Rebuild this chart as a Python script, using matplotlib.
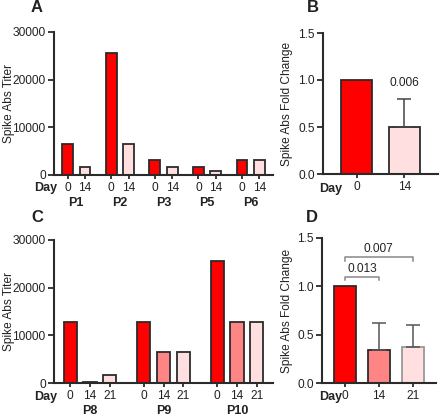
import matplotlib
matplotlib.use("Agg")
import matplotlib.pyplot as plt
import numpy as np

plt.rcParams["font.family"] = ["Liberation Sans", "DejaVu Sans"]
plt.rcParams["font.size"] = 8.6

# ---- data ----
a_patients = ["P1", "P2", "P3", "P5", "P6"]
a_days = ["0", "14"]
a_titer = [[6400, 1600], [25600, 6400], [3200, 1600], [1600, 800], [3200, 3200]]

b_days = ["0", "14"]
b_fold = [1.0, 0.5]
b_err = [0.0, 0.3]
b_pval = "0.006"

c_patients = ["P8", "P9", "P10"]
c_days = ["0", "14", "21"]
c_titer = [[12800, 200, 1600], [12800, 6400, 6400], [25600, 12800, 12800]]

d_days = ["0", "14", "21"]
d_fold = [1.0, 0.34, 0.37]
d_err = [0.0, 0.28, 0.23]
d_pvals = ["0.013", "0.007"]

RED = "#ff0000"
MID = "#ff8585"
LIGHT = "#ffdfdf"
EDGE = "#2b2b2b"
TXT = "#222222"

W, H = 440, 416
fig = plt.figure(figsize=(W / 100, H / 100), dpi=100)


def box(l, t, r, b):
    return [l / W, 1 - b / H, (r - l) / W, (b - t) / H]


def style(ax):
    for s in ("top", "right"):
        ax.spines[s].set_visible(False)
    for s in ("left", "bottom"):
        ax.spines[s].set_linewidth(1.5)
        ax.spines[s].set_color(EDGE)
    ax.tick_params(axis="y", length=4, width=1.3, pad=2, colors=EDGE, labelcolor=TXT)
    ax.tick_params(axis="x", length=3, width=1.3, pad=2, colors=EDGE, labelcolor=TXT)


def grouped(ax, groups, days, values, colors, step, width, lim):
    pos, labels = [], []
    for i, (g, vals) in enumerate(zip(groups, values)):
        xs = i + np.arange(len(vals)) * step
        ax.bar(xs, vals, width=width, color=colors, edgecolor=EDGE, linewidth=1.3)
        pos.extend(xs)
        labels.extend(days)
        ax.annotate(g, xy=(xs.mean(), 0), xycoords=("data", "axes fraction"),
                    xytext=(0, -20), textcoords="offset points",
                    ha="center", va="center", fontsize=9, fontweight="bold", color=TXT)
    ax.set_xticks(pos)
    ax.set_xticklabels(labels)
    ax.set_xlim(*lim)
    ax.set_ylim(0, 30000)
    ax.set_yticks([0, 10000, 20000, 30000])
    ax.set_ylabel("Spike Abs Titer", color=TXT)
    ax.yaxis.set_label_coords(-0.18, 0.5)


# ---- A ----
ax_a = fig.add_axes(box(54, 32, 273, 175))
style(ax_a)
grouped(ax_a, a_patients, a_days, a_titer, [RED, LIGHT], 0.4, 0.25, (-0.31, 4.71))

# ---- C ----
ax_c = fig.add_axes(box(54, 240, 273, 383))
style(ax_c)
grouped(ax_c, c_patients, c_days, c_titer, [RED, MID, LIGHT], 0.27, 0.18, (-0.22, 2.76))

# ---- B ----
ax_b = fig.add_axes(box(323, 33, 438, 174))
style(ax_b)
xb = np.arange(len(b_fold))
ax_b.bar(xb, b_fold, width=0.65, color=[RED, LIGHT], edgecolor=EDGE, linewidth=1.3)
ax_b.errorbar(xb[1:], b_fold[1:], yerr=[[0], b_err[1:]], fmt="none",
              ecolor="#444444", elinewidth=1.1, capsize=5, capthick=1.1)
ax_b.text(xb[1], 0.97, b_pval, ha="center", va="center", fontsize=8.6, color=TXT)
ax_b.set_xticks(xb)
ax_b.set_xticklabels(b_days)
ax_b.set_xlim(-0.7, 1.7)
ax_b.set_ylim(0, 1.5)
ax_b.set_yticks([0, 0.5, 1.0, 1.5])
ax_b.set_yticklabels(["0.0", "0.5", "1.0", "1.5"])
ax_b.set_ylabel("Spike Abs Fold Change", color=TXT)
ax_b.yaxis.set_label_coords(-0.26, 0.5)

# ---- D ----
ax_d = fig.add_axes(box(322, 238, 436, 383))
style(ax_d)
xd = np.arange(len(d_fold))
ax_d.bar(xd, d_fold, width=0.65, color=[RED, MID, LIGHT],
         edgecolor=[EDGE, EDGE, "#999999"], linewidth=1.3)
ax_d.errorbar(xd[1:], d_fold[1:], yerr=[[0, 0], d_err[1:]], fmt="none",
              ecolor="#555555", elinewidth=1.1, capsize=5, capthick=1.1)
for (x0, x1, y, lab) in [(xd[0], xd[1], 1.10, d_pvals[0]), (xd[0], xd[2], 1.30, d_pvals[1])]:
    ax_d.plot([x0, x0, x1, x1], [y - 0.035, y, y, y - 0.035], color="#888888", lw=1.1)
    ax_d.text((x0 + x1) / 2, y + 0.02, lab, ha="center", va="bottom", fontsize=8.6, color=TXT)
ax_d.set_xticks(xd)
ax_d.set_xticklabels(d_days)
ax_d.set_xlim(-0.68, 2.69)
ax_d.set_ylim(0, 1.5)
ax_d.set_yticks([0, 0.5, 1.0, 1.5])
ax_d.set_yticklabels(["0.0", "0.5", "1.0", "1.5"])
ax_d.set_ylabel("Spike Abs Fold Change", color=TXT)
ax_d.yaxis.set_label_coords(-0.255, 0.5)

# "Day" row labels and panel letters
for (x, y) in [(57, 188), (342, 189), (57, 397), (342, 397)]:
    fig.text(x / W, 1 - y / H, "Day", ha="right", va="center",
             fontsize=9, fontweight="bold", color=TXT)
for (x, y, s) in [(37, 8, "A"), (313, 8, "B"), (37, 218, "C"), (312, 218, "D")]:
    fig.text(x / W, 1 - y / H, s, ha="center", va="center",
             fontsize=12, fontweight="bold", color=TXT)

fig.savefig("out.png", dpi=100)
